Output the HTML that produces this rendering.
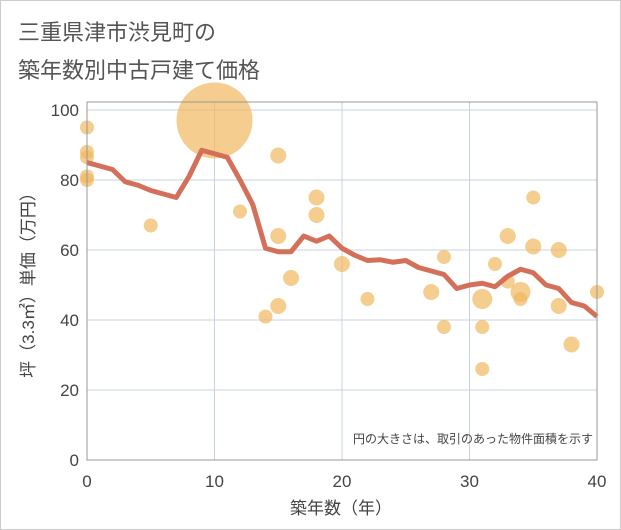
<!DOCTYPE html>
<html><head><meta charset="utf-8"><style>
body{margin:0;background:#fff;}
svg{display:block;font-family:"Liberation Sans","Noto Sans CJK JP",sans-serif;}
</style></head><body>
<svg id="c" width="621" height="530">
<rect x="0.5" y="0.5" width="620" height="529" fill="#fff" stroke="#ccc"/>
<text x="18" y="40" font-size="22" fill="#555">三重県津市渋見町の</text>
<text x="18" y="78" font-size="22" fill="#555">築年数別中古戸建て価格</text>
<g id="grid"></g>
<g id="pts"></g>
<g id="ln"></g>
<rect x="87" y="102" width="510" height="358" fill="none" stroke="#999"/>
<g id="ticks"></g>
<text x="341" y="514" font-size="17" fill="#444" text-anchor="middle">築年数（年）</text>
<text transform="translate(34,281) rotate(-90)" font-size="17" fill="#444" text-anchor="middle">坪（3.3㎡）単価（万円）</text>
<text x="593" y="443" font-size="12" fill="#444" text-anchor="end">円の大きさは、取引のあった物件面積を示す</text>
</svg>
<script>
const xTicks=[0,10,20,30,40];
const yTicks=[0,20,40,60,80,100];
const lineYears=[0,1,2,3,4,5,6,7,8,9,10,11,12,13,14,15,16,17,18,19,20,21,22,23,24,25,26,27,28,29,30,31,32,33,34,35,36,37,38,39,40];
const lineValues=[85,84,83,79.5,78.5,77,76,75,81,88.5,87.5,86.5,80,73,60.5,59.5,59.5,64,62.5,64,60.5,58.5,57,57.2,56.5,57,55,54,53,49,50,50.5,49.5,52.5,54.5,53.5,50,49,45,44,41];
const ptYears=[0,0,0,0,0,5,10,15,12,18,18,15,16,15,14,20,22,28,27,28,31,31,31,32,33,33,34,34,35,35,37,37,38,40];
const ptValues=[95,88,86.5,81,80,67,97,87,71,75,70,64,52,44,41,56,46,58,48,38,46,38,26,56,64,51,48,46,75,61,60,44,33,48];
const ptSizes=[7,7,7,7,7,7,38,8,7,8,8,8,8,8,7,8,7,7,8,7,10,7,7,7,8,7,10,7,7,8,8,8,8,7];
const X=v=>87+v*12.75, Y=v=>460-v*3.5;
const NS='http://www.w3.org/2000/svg';
function mk(t,a,p){const e=document.createElementNS(NS,t);for(const k in a)e.setAttribute(k,a[k]);p.appendChild(e);return e;}
const g=document.getElementById('grid'),tk=document.getElementById('ticks');
xTicks.forEach(v=>{const l=mk('line',{x1:X(v),x2:X(v),y1:102,y2:460,stroke:'#c5d3e0'},g);


const t=mk('text',{x:X(v),y:487,'font-size':17,fill:'#444','text-anchor':'middle'},tk);t.textContent=v;

});
yTicks.forEach(v=>{const l=mk('line',{x1:87,x2:597,y1:Y(v),y2:Y(v),stroke:'#c5d3e0'},g);


const t=mk('text',{x:79,y:Y(v)+6,'font-size':17,fill:'#444','text-anchor':'end'},tk);t.textContent=v;

});
const pg=document.getElementById('pts');
ptYears.forEach((yr,i)=>{const c=mk('circle',{cx:X(yr),cy:Y(ptValues[i]),r:ptSizes[i],fill:'#f0b860','fill-opacity':0.7},pg);

});
const p=mk('polyline',{points:lineYears.map((yr,i)=>X(yr)+','+Y(lineValues[i])).join(' '),fill:'none',stroke:'#d4705a','stroke-width':5,'stroke-linejoin':'round'},document.getElementById('ln'));


</script>
</body></html>
